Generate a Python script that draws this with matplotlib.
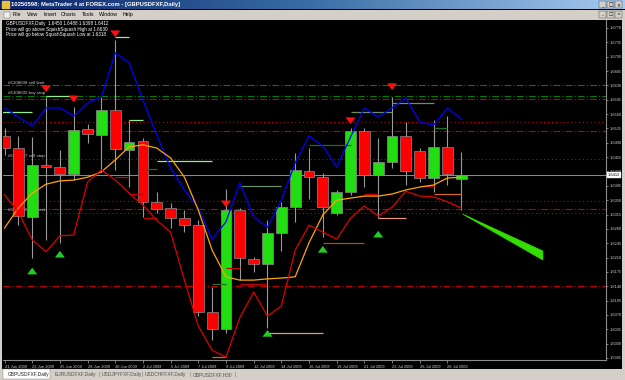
import numpy as np
import matplotlib.pyplot as plt
from matplotlib.patches import Rectangle, Polygon
from matplotlib.colors import LinearSegmentedColormap

plt.rcParams['font.family'] = ['Liberation Sans', 'DejaVu Sans']

W, H = 625, 380

# ---- data ----
opens  = [1.6507, 1.6477, 1.6309, 1.6436, 1.6431, 1.6414, 1.6524, 1.6509, 1.6570, 1.6472,
          1.6494, 1.6346, 1.6331, 1.6306, 1.6289, 1.6077, 1.6036, 1.6326, 1.6206, 1.6194,
          1.6270, 1.6333, 1.6421, 1.6406, 1.6319, 1.6370, 1.6519, 1.6411, 1.6443, 1.6507,
          1.6470, 1.6404, 1.6480, 1.6401]
highs  = [1.6526, 1.6507, 1.6504, 1.6602, 1.6472, 1.6577, 1.6536, 1.6602, 1.6741, 1.6546,
          1.6502, 1.6370, 1.6343, 1.6326, 1.6301, 1.6138, 1.6377, 1.6331, 1.6211, 1.6301,
          1.6346, 1.6465, 1.6477, 1.6416, 1.6375, 1.6526, 1.6526, 1.6502, 1.6602, 1.6541,
          1.6477, 1.6546, 1.6555, 1.6468]
lows   = [1.6460, 1.6289, 1.6209, 1.6253, 1.6246, 1.6399, 1.6489, 1.6419, 1.6424, 1.6382,
          1.6309, 1.6319, 1.6282, 1.6272, 1.6067, 1.6009, 1.6026, 1.6155, 1.6175, 1.6038,
          1.6226, 1.6297, 1.6353, 1.6260, 1.6314, 1.6363, 1.6382, 1.6306, 1.6428, 1.6387,
          1.6394, 1.6370, 1.6387, 1.6326]
closes = [1.6477, 1.6311, 1.6436, 1.6431, 1.6414, 1.6521, 1.6511, 1.6570, 1.6475, 1.6492,
          1.6346, 1.6328, 1.6306, 1.6289, 1.6077, 1.6036, 1.6326, 1.6209, 1.6194, 1.6270,
          1.6333, 1.6424, 1.6406, 1.6333, 1.6370, 1.6519, 1.6411, 1.6443, 1.6507, 1.6421,
          1.6404, 1.6480, 1.6414, 1.6411]

upper_band = [1.6575, 1.6553, 1.6531, 1.6575, 1.6575, 1.6555, 1.6587, 1.6602, 1.6709, 1.6685,
              1.6594, 1.6509, 1.6428, 1.6375, 1.6331, 1.6255, 1.6297, 1.6392, 1.6309, 1.6284,
              1.6350, 1.6441, 1.6507, 1.6482, 1.6431, 1.6504, 1.6575, 1.6553, 1.6575, 1.6599,
              1.6541, 1.6533, 1.6575, 1.6548]
mid_line   = [1.6282, 1.6331, 1.6367, 1.6389, 1.6397, 1.6399, 1.6406, 1.6419, 1.6448, 1.6480,
              1.6485, 1.6477, 1.6453, 1.6406, 1.6326, 1.6228, 1.6163, 1.6155, 1.6155, 1.6158,
              1.6160, 1.6163, 1.6246, 1.6314, 1.6350, 1.6355, 1.6360, 1.6360, 1.6365, 1.6375,
              1.6382, 1.6387, 1.6404, 1.6406]
lower_band = [1.6363, 1.6321, 1.6253, 1.6224, 1.6263, 1.6265, 1.6394, 1.6424, 1.6399, 1.6367,
              1.6338, 1.6301, 1.6272, 1.6155, 1.6043, 1.5984, 1.5967, 1.6063, 1.6126, 1.6067,
              1.6092, 1.6228, 1.6289, 1.6272, 1.6255, 1.6306, 1.6336, 1.6311, 1.6333, 1.6372,
              1.6360, 1.6358, 1.6346, 1.6331]

down_arrow_bars   = [3, 5, 8, 16, 25, 28]
down_arrow_prices = [1.6619, 1.6594, 1.6753, 1.6338, 1.6541, 1.6624]
up_arrow_bars     = [2, 4, 19, 23, 27]
up_arrow_prices   = [1.6180, 1.6221, 1.6028, 1.6233, 1.6270]

# order / level lines across the chart
level_prices = [1.6630, 1.6604, 1.6597, 1.6541, 1.6519, 1.6450, 1.6348, 1.6328, 1.6318, 1.6140]
level_colors = ['#008000', '#008000', '#c00000', '#c00000', '#c00000',
                '#006400', '#c00000', '#c00000', '#006400', '#c00000']
level_styles = ['dashdot', 'dashdot', 'dashdot', 'dotted', 'dashdot',
                'dotted', 'dotted', 'dashdot', 'dotted', 'dashdot']
bid = 1.6412

# short SquishSquash level segments: start bar, end bar, price
seg_start  = [8, 3, -0.2, 9, 10, 11, 8, 9, 10, 17, 15, 16, 17, 19, 23, 22, 25, 28, 26, 27, 31, 30, 31, 15]
seg_end    = [9, 5, 2, 10, 11, 15, 9, 10, 11, 20, 16, 17, 19, 23, 26, 25, 28, 31, 27, 29, 32, 31, 33, 16]
seg_price  = [1.6748, 1.6604, 1.6565, 1.6546, 1.6426, 1.6446, 1.6406, 1.6365, 1.6306, 1.6385,
              1.6146, 1.6185, 1.6146, 1.6026, 1.6246, 1.6485, 1.6565, 1.6587, 1.6365, 1.6306,
              1.6526, 1.6385, 1.6365, 1.5968]
seg_colors = ['#90ee90', '#90ee90', '#90ee90', '#90ee90', '#207020', '#90ee90', '#c00000',
              '#c00000', '#c00000', '#6b8e6b', '#207020', '#c00000', '#c00000', '#e9967a',
              '#a0522d', '#207020', '#6b8e6b', '#6b8e6b', '#c00000', '#e9967a', '#207020',
              '#c00000', '#d2691e', '#d2691e']

proj_x = [33.1, 38.9, 38.9]
proj_y = [1.6316, 1.6226, 1.6204]

tick_bars  = [0, 2, 4, 6, 8, 10, 12, 14, 16, 18, 20, 22, 24, 26, 28, 30, 32]
tick_dates = ['21 Jun 2009', '23 Jun 2009', '25 Jun 2009', '28 Jun 2009', '30 Jun 2009',
              '2 Jul 2009', '5 Jul 2009', '7 Jul 2009', '9 Jul 2009', '12 Jul 2009',
              '14 Jul 2009', '16 Jul 2009', '19 Jul 2009', '21 Jul 2009', '23 Jul 2009',
              '26 Jul 2009', '28 Jul 2009']
price_ticks = np.round(1.5965 + 0.0035 * np.arange(24), 4)

tabs = ['GBPUSDFXF,Daily', 'EURUSDFXF,Daily', 'USDJPYFXF,Daily', 'USDCHFFXF,Daily', 'GBPUSDFXF,H30']
menu = ['File', 'View', 'Insert', 'Charts', 'Tools', 'Window', 'Help']


def fx(px):
    return px / W


def fy(py):
    return 1 - py / H


fig = plt.figure(figsize=(W / 100, H / 100), dpi=100, facecolor='black')

# ---- chart ----
ax = fig.add_axes([fx(3), fy(360), fx(603), (360 - 20) / H])
ax.set_facecolor('black')
ax.set_xlim(-0.11, 43.46)
ax.set_ylim(1.59601, 1.67895)

bars = np.arange(len(opens))
o = np.array(opens); c = np.array(closes)
up = c >= o
ax.vlines(bars, lows, highs, color='#9a9a9a', lw=0.8, zorder=3)
ax.bar(bars, np.abs(c - o) + 0.00004, bottom=np.minimum(o, c), width=0.78,
       color=np.where(up, '#22dd11', '#ff0000'), edgecolor='#8a8a8a', linewidth=0.5, zorder=4)

for p, col, ls in zip(level_prices, level_colors, level_styles):
    dashes = (0, (6, 2, 1, 2)) if ls == 'dashdot' else (0, (1, 2.5))
    ax.axhline(p, color=col, lw=0.8, linestyle=dashes, zorder=1)
ax.axhline(bid, color='#8c8c8c', lw=0.7, zorder=1)

for s, e, p, col in zip(seg_start, seg_end, seg_price, seg_colors):
    ax.hlines(p, s, e, color=col, lw=0.9, zorder=5)

ax.plot(bars, upper_band, color='#0000ff', lw=0.9, zorder=6)
ax.plot(bars, mid_line, color='#ffa500', lw=0.9, zorder=6)
ax.plot(bars, lower_band, color='#dd0000', lw=0.9, zorder=6)

ax.add_patch(Polygon(list(zip(proj_x, proj_y)), closed=True, color='#33dd00', lw=0.5, zorder=6))

arrow_len = 0.0012
astyle = 'simple,head_length=0.6,head_width=0.9,tail_width=0.35'
for b, p in zip(down_arrow_bars, down_arrow_prices):
    ax.annotate('', xy=(b, p - arrow_len), xytext=(b, p + arrow_len),
                arrowprops=dict(arrowstyle=astyle, color='#ff1010', lw=0, mutation_scale=8), zorder=7)
for b, p in zip(up_arrow_bars, up_arrow_prices):
    ax.annotate('', xy=(b, p + arrow_len), xytext=(b, p - arrow_len),
                arrowprops=dict(arrowstyle=astyle, color='#22cc22', lw=0, mutation_scale=8), zorder=7)

# order labels at left
ax.text(0.25, 1.6632, '#6108608 sell limit', color='#c8c8c8', fontsize=3.2, va='bottom', zorder=2)
ax.text(0.25, 1.6606, '#6108605 buy stop', color='#c8c8c8', fontsize=3.2, va='bottom', zorder=2)
ax.text(0.25, 1.6452, '#6108607 sell stop', color='#c8c8c8', fontsize=3.2, va='bottom', zorder=2)
ax.text(0.25, 1.6320, '#6108606 buy limit', color='#c8c8c8', fontsize=3.2, va='bottom', zorder=2)

for side in ['top', 'left']:
    ax.spines[side].set_visible(False)
for side in ['right', 'bottom']:
    ax.spines[side].set_color('#8c8c8c')
    ax.spines[side].set_linewidth(0.8)

ax.yaxis.tick_right()
ax.set_yticks(price_ticks)
ax.set_yticklabels(['%.4f' % v for v in price_ticks])
ax.tick_params(axis='y', colors='#8c8c8c', labelcolor='#d0d0d0', labelsize=2.8,
               length=1.5, width=0.6, pad=1)
ax.set_xticks(tick_bars)
ax.set_xticklabels(tick_dates, ha='left')
ax.tick_params(axis='x', colors='#8c8c8c', labelcolor='#d0d0d0', labelsize=2.9,
               length=2, width=0.6, pad=1.5)

ax.text(1.002, bid, '%.4f' % bid, transform=ax.get_yaxis_transform(), fontsize=2.8,
        color='black', va='center', ha='left',
        bbox=dict(boxstyle='square,pad=0.12', fc='white', ec='white'), zorder=10)

# header text in the chart
fig.text(fx(6), fy(23.5), 'GBPUSDFXF,Daily  1.6450 1.6488 1.6398 1.6412',
         color='white', fontsize=3.3, va='center')
fig.text(fx(6), fy(29), 'Price will go above SquishSquash High at 1.6630',
         color='white', fontsize=3.3, va='center')
fig.text(fx(6), fy(34.5), 'Price will go below SquishSquash Low at 1.6318',
         color='white', fontsize=3.3, va='center')

# ---- window chrome ----
tb = fig.add_axes([0, fy(9.5), 1, 9.5 / H])
grad = np.linspace(0, 1, 256).reshape(1, -1)
tb.imshow(grad, aspect='auto', cmap=LinearSegmentedColormap.from_list(
    'tb', ['#0a246a', '#3a6ea5', '#a6caf0']), extent=[0, 1, 0, 1])
tb.set_axis_off()
tb.text(0.018, 0.5, '10250598: MetaTrader 4 at FOREX.com - [GBPUSDFXF,Daily]',
        color='white', fontsize=4.2, fontweight='bold', va='center', transform=tb.transAxes)
tb.add_patch(Rectangle((0.003, 0.15), 0.011, 0.7, color='#e8c040', transform=tb.transAxes))
for k, ch in enumerate(['_', '□', '×']):
    tb.add_patch(Rectangle((fx(599 + 8 * k), 0.12), fx(7), 0.76, fc='#d4d0c8', ec='#404040',
                           lw=0.3, transform=tb.transAxes))
    tb.text(fx(602.5 + 8 * k), 0.45, ch, fontsize=3.4, ha='center', va='center',
            color='black', transform=tb.transAxes, family='DejaVu Sans')

fig.patches.append(Rectangle((0, fy(19.5)), 1, 10 / H, transform=fig.transFigure,
                             fc='#d4d0c8', ec='none'))
menu_x = [13, 27, 43, 61, 82, 99, 123]
for m, mx in zip(menu, menu_x):
    fig.text(fx(mx), fy(14.5), m, fontsize=3.8, color='black', va='center')
fig.patches.append(Rectangle((fx(4), fy(18)), fx(6), 6 / H, transform=fig.transFigure,
                             fc='#f0f0f0', ec='#606060', lw=0.3))
for k, ch in enumerate(['_', '□', '×']):
    fig.patches.append(Rectangle((fx(599 + 8 * k), fy(18)), fx(7), 7 / H,
                                 transform=fig.transFigure, fc='#d4d0c8', ec='#404040', lw=0.3))
    fig.text(fx(602.5 + 8 * k), fy(14.5), ch, fontsize=3.2, ha='center', va='center',
             color='black', family='DejaVu Sans')

# side frames
fig.patches.append(Rectangle((0, fy(369)), fx(2), 350 / H, transform=fig.transFigure,
                             fc='#d4d0c8', ec='none'))
fig.patches.append(Rectangle((fx(622), fy(369)), fx(3), 350 / H, transform=fig.transFigure,
                             fc='#d4d0c8', ec='none'))

# tab bar
fig.patches.append(Rectangle((0, 0), 1, 11 / H, transform=fig.transFigure,
                             fc='#d4d0c8', ec='none'))
fig.patches.append(Rectangle((fx(3), fy(379)), fx(47), 10 / H, transform=fig.transFigure,
                             fc='white', ec='#808080', lw=0.3))
tab_x = [8, 55, 102, 145, 193]
for t, tx in zip(tabs, tab_x):
    fig.text(fx(tx), fy(374.5), t, fontsize=3.5, color='#202020' if tx == 8 else '#505050',
             va='center')
for sx in [99, 142, 190, 235]:
    fig.text(fx(sx), fy(374.5), '|', fontsize=3.5, color='#707070', va='center')

fig.savefig('out.png', dpi=100, facecolor='black')
